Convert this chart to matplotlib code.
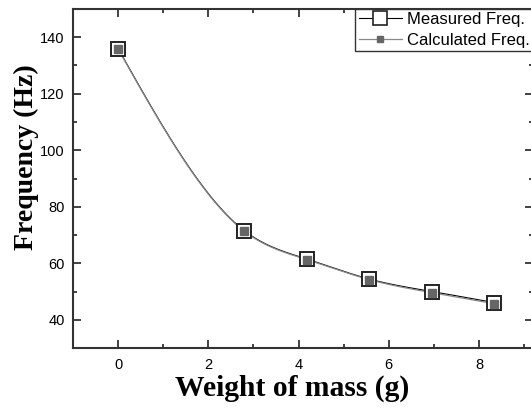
import numpy as np
import matplotlib
matplotlib.use('Agg')
import matplotlib.pyplot as plt
from matplotlib.ticker import MultipleLocator

weights = [0, 2.8, 4.18, 5.57, 6.95, 8.33]
measured = [136.0, 71.5, 61.5, 54.4, 50.0, 46.1]
calculated = [135.8, 71.3, 61.3, 54.2, 49.6, 45.7]


def natural_spline(x, y, n=300):
    # plain natural cubic spline, like Origin's spline connection
    x = np.asarray(x, float)
    y = np.asarray(y, float)
    k = len(x)
    h = np.diff(x)
    A = np.zeros((k, k))
    b = np.zeros(k)
    A[0, 0] = A[-1, -1] = 1
    for i in range(1, k - 1):
        A[i, i - 1] = h[i - 1]
        A[i, i] = 2 * (h[i - 1] + h[i])
        A[i, i + 1] = h[i]
        b[i] = 3 * ((y[i + 1] - y[i]) / h[i] - (y[i] - y[i - 1]) / h[i - 1])
    c = np.linalg.solve(A, b)
    xs = np.linspace(x[0], x[-1], n)
    idx = np.clip(np.searchsorted(x, xs) - 1, 0, k - 2)
    dx = xs - x[idx]
    bb = (y[idx + 1] - y[idx]) / h[idx] - h[idx] * (2 * c[idx] + c[idx + 1]) / 3
    dd = (c[idx + 1] - c[idx]) / (3 * h[idx])
    ys = y[idx] + bb * dx + c[idx] * dx ** 2 + dd * dx ** 3
    return xs, ys


fig = plt.figure(figsize=(5.31, 4.08), dpi=100)
ax = fig.add_axes([0.1375, 0.147, 0.8665, 0.831])

xs, ys = natural_spline(weights, measured)
ax.plot(xs, ys, color='black', lw=0.8, zorder=2)
xs, ys = natural_spline(weights, calculated)
ax.plot(xs, ys, color='#8a8a8a', lw=0.9, zorder=2)

ax.plot(weights, measured, ls='none', marker='s', ms=10, mfc='white',
        mec='#222222', mew=1.4, zorder=3)
ax.plot(weights, calculated, ls='none', marker='s', ms=5.5, mfc='#666666',
        mec='#666666', zorder=4)

h1, = ax.plot([], [], color='black', lw=0.8, marker='s', ms=10, mfc='white',
              mec='#222222', mew=1.2)
h2, = ax.plot([], [], color='#8a8a8a', lw=0.9, marker='s', ms=5, mfc='#666666',
              mec='#666666')
leg = ax.legend([h1, h2], ['Measured Freq.', 'Calculated Freq.'],
                loc='upper right', bbox_to_anchor=(1.0, 1.0), borderaxespad=0,
                fancybox=False, edgecolor='#333333', framealpha=1,
                prop={'family': 'Liberation Sans', 'size': 12},
                handlelength=2.6, handletextpad=0.3, labelspacing=0.35,
                borderpad=0.2)
leg.get_frame().set_linewidth(1.0)

ax.set_xlim(-1, 9.2)
ax.set_ylim(30, 150)
ax.xaxis.set_major_locator(MultipleLocator(2))
ax.xaxis.set_minor_locator(MultipleLocator(1))
ax.yaxis.set_major_locator(MultipleLocator(20))
ax.yaxis.set_minor_locator(MultipleLocator(10))
ax.tick_params(which='both', direction='in', top=True, right=True,
               width=1.3, color='#333333', labelsize=10.5)
ax.tick_params(which='major', length=6)
ax.tick_params(which='minor', length=3)
for lab in ax.get_xticklabels() + ax.get_yticklabels():
    lab.set_family('Liberation Sans')
ax.tick_params(axis='x', pad=7)
ax.tick_params(axis='y', pad=6)
for sp in ax.spines.values():
    sp.set_linewidth(1.5)
    sp.set_color('#333333')

ax.set_xlabel('Weight of mass (g)', family='Liberation Serif', weight='bold',
              fontsize=21.3, labelpad=2)
ax.set_ylabel('Frequency (Hz)', family='Liberation Serif', weight='bold',
              fontsize=20)
# labels in the original sit a little off the axes centre
ax.xaxis.label.set_x(0.476)
ax.yaxis.set_label_coords(-0.074, 0.562)

fig.savefig('out.png', dpi=100)
